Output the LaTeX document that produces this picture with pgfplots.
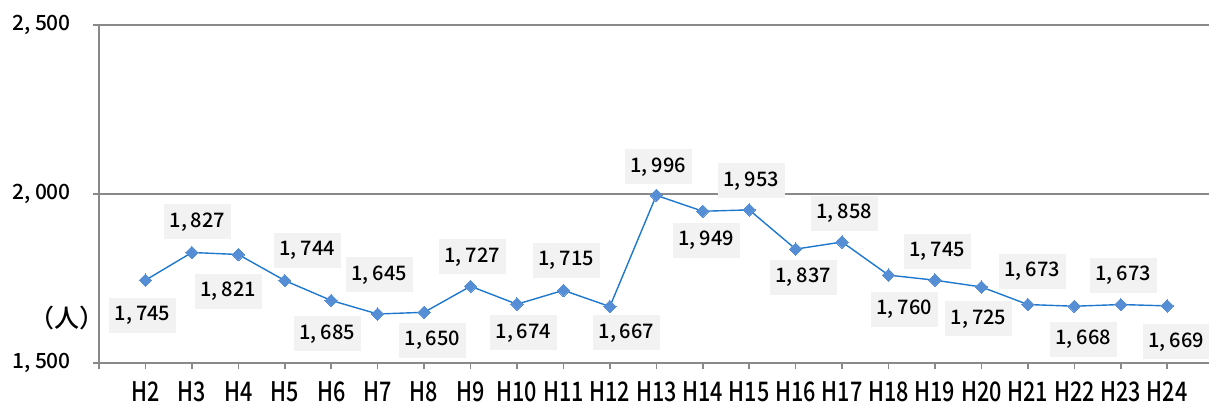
\documentclass[border=0pt]{standalone}
\usepackage{pgfplots}
\pgfplotsset{compat=1.18}
\usepackage{pgfplotstable}
\usepackage{fontspec}
\setmainfont{Noto Sans CJK JP Medium}
\definecolor{axgray}{RGB}{137,137,137}
\definecolor{lineblue}{RGB}{30,120,205}
\definecolor{markblue}{RGB}{85,142,213}
\definecolor{boxgray}{RGB}{242,242,242}
\newcommand\nx[1]{\scalebox{0.8}[1]{#1}}

\pgfplotstableread{
x y dx dy
0 1745 -1.5 -17.5
1 1827 2.75 15.25
2 1821 -5 -18.25
3 1744 11.3 15.25
4 1685 -2 -16.75
5 1645 0.85 19.5
6 1650 4.15 -13.85
7 1727 0.9 14.65
8 1674 3.2 -14.4
9 1715 1.45 15.15
10 1667 8.25 -13.2
11 1996 1 14.2
12 1949 1.8 -14.4
13 1953 1 14.5
14 1837 3.85 -14
15 1858 1.1 14.5
16 1760 7.9 -17
17 1745 1.15 14.5
18 1725 -1.5 -16
19 1673 2.2 16.75
20 1668 4.5 -16.5
21 1673 1.25 14.75
22 1669 4.5 -18
}\datatable

\begin{document}
\begin{tikzpicture}
\begin{axis}[
  scale only axis, width=555pt, height=169pt,
  xmin=-1, xmax=22.9, ymin=1500, ymax=2500,
  axis x line=bottom, axis y line=left,
  axis line style={draw=axgray, line width=1pt, -},
  xtick={-1,0,1,...,22},
  xticklabels={,\nx{H2},\nx{H3},\nx{H4},\nx{H5},\nx{H6},\nx{H7},\nx{H8},\nx{H9},\nx{H10},\nx{H11},\nx{H12},\nx{H13},\nx{H14},\nx{H15},\nx{H16},\nx{H17},\nx{H18},\nx{H19},\nx{H20},\nx{H21},\nx{H22},\nx{H23},\nx{H24}},
  ytick={1500,2000,2500},
  ymajorgrids, grid style={draw=axgray, line width=0.8pt},
  tick align=outside, major tick length=3pt,
  tick style={draw=axgray, line width=0.8pt},
  xticklabel style={font=\fontsize{13.5}{15}\selectfont, text=black, yshift=-3pt},
  yticklabel style={font=\fontsize{10.5}{12}\selectfont, text=black, xshift=-7.5pt},
  /pgf/number format/.cd, assume math mode=true, 1000 sep={,\hspace{0.2em}},
  /pgfplots/.cd,
  clip=false,
]
\addplot[color=lineblue, line width=0.7pt, mark=square*, mark size=2.2pt,
  mark options={rotate=45, fill=markblue, draw=markblue, line width=0pt},
  nodes near coords,
  visualization depends on={\thisrow{dx} \as \dx},
  visualization depends on={\thisrow{dy} \as \dy},
  every node near coord/.append style={anchor=center, xshift=\dx pt, yshift=\dy pt,
    fill=boxgray, minimum width=33.5pt, minimum height=17.5pt, inner sep=0pt,
    font=\fontsize{10}{12}\selectfont, text=black}]
  table[x=x,y=y]{\datatable};
\node[font=\fontsize{12.5}{15}\selectfont, text=black] at (rel axis cs:0,0) [xshift=-16pt, yshift=22.5pt] {（人）};
\end{axis}
\pgfresetboundingbox
\path[use as bounding box] (-49.5pt,-20pt) rectangle (555pt,181.5pt);
\end{tikzpicture}
\end{document}
